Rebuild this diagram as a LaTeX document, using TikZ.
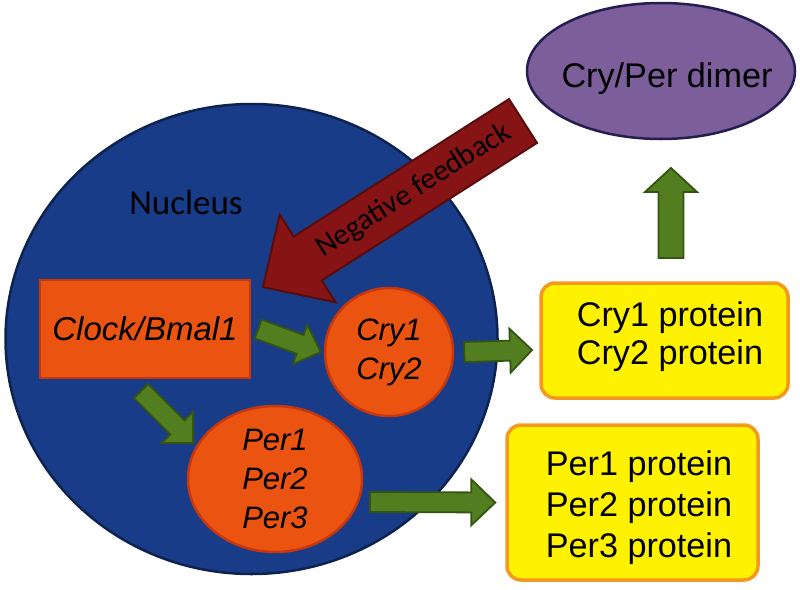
\documentclass[tikz,border=0pt]{standalone}
\usepackage{fontspec}
\setmainfont{Liberation Sans}
\newfontfamily\calibfont{Carlito}
\usetikzlibrary{shapes.geometric,calc}

\definecolor{nucblue}{RGB}{24,60,136}
\definecolor{nucline}{RGB}{14,34,80}
\definecolor{geneorange}{RGB}{234,83,16}
\definecolor{geneline}{RGB}{200,55,12}
\definecolor{arrgreen}{RGB}{82,126,32}
\definecolor{arrline}{RGB}{52,84,18}
\definecolor{fbred}{RGB}{134,20,20}
\definecolor{fbline}{RGB}{88,12,12}
\definecolor{dimerpurple}{RGB}{124,94,154}
\definecolor{dimerline}{RGB}{36,30,80}
\definecolor{protline}{RGB}{247,152,30}

% block arrow: [style]{from}{to}{shaft half width}{head half width}{head length}
\newcommand{\fatarrow}[6][]{%
  \coordinate (fa-c) at ($(#3)!#6!(#2)$);
  \draw[#1] ($(#2)!#4!90:(#3)$) -- ($(fa-c)!#4!-90:(#2)$) -- ($(fa-c)!#5!-90:(#2)$)
    -- (#3) -- ($(fa-c)!#5!90:(#2)$) -- ($(fa-c)!#4!90:(#2)$) -- ($(#2)!#4!-90:(#3)$) -- cycle;
}

\begin{document}
\begin{tikzpicture}[x=1pt, y=-1pt,
  gene/.style={fill=geneorange, draw=geneline, line width=2.5, font=\itshape\fontsize{31}{39}\selectfont, align=center, inner sep=0pt},
  prot/.style={rectangle, rounded corners=14, fill=yellow, draw=protline, line width=3.5},
  prottext/.style={font=\fontsize{34.2}{38}\selectfont, align=center, inner sep=0pt},
  greenarr/.style={fill=arrgreen, draw=arrline, line width=1.8, line join=miter}]

\useasboundingbox (0,0) rectangle (800,589);

% Nucleus
\node (nucleus) at (251.5,339) [ellipse, minimum width=492, minimum height=470, fill=nucblue, draw=nucline, line width=2.5] {};
\node (nuclabel) at (186,202) [font=\calibfont\fontsize{35}{40}\selectfont] {Nucleus};

% Genes
\node (clock) at (145,329) [gene, rectangle, minimum width=210, minimum height=98, font=\itshape\fontsize{33}{39}\selectfont] {Clock/Bmal1};
\node (cry) at (389,352) [gene, circle, minimum size=128] {Cry1\\Cry2};
\node (per) at (275,479) [gene, ellipse, minimum width=174, minimum height=146] {Per1\\Per2\\Per3};

% Proteins
\node (cryprot) at (664.5,340.5) [prot, minimum width=247, minimum height=115] {};
\node (crytext) at (670,337) [prottext] {Cry1 protein\\Cry2 protein};
\node (perprot) at (632.5,502.5) [prot, minimum width=251, minimum height=155] {};
\node (pertext) at (639,508) [prottext, font=\fontsize{34.2}{41}\selectfont] {Per1 protein\\Per2 protein\\Per3 protein};
\node (dimer) at (661,71) [ellipse, minimum width=268, minimum height=136, fill=dimerpurple, draw=dimerline, line width=2.5] {};
\node (dimertext) at (667,79) [prottext] {Cry/Per dimer};

% Arrow ends
\coordinate (a1s) at ([xshift=7]clock.east);
\coordinate (a1t) at ([xshift=-3]cry.west);
\coordinate (a2s) at ([xshift=10]cry.east);
\coordinate (a2t) at (532,350);
\coordinate (a3s) at (141,391);
\coordinate (a3t) at (193,443);
\coordinate (a4s) at (370,502);
\coordinate (a4t) at ([xshift=-10]perprot.west);
\coordinate (a5s) at (671,258);
\coordinate (a5t) at (671,168);
\coordinate (fbs) at (523,121);
\coordinate (fbt) at (263,287);

% Green arrows
\fatarrow[greenarr]{a1s}{a1t}{10pt}{21pt}{22pt}
\fatarrow[greenarr]{a2s}{a2t}{10pt}{22pt}{22pt}
\fatarrow[greenarr]{a3s}{a3t}{10pt}{22pt}{22pt}
\fatarrow[greenarr]{a4s}{a4t}{10pt}{23pt}{24pt}
\fatarrow[greenarr]{a5s}{a5t}{12.5pt}{26pt}{24pt}

% Negative feedback
\fatarrow[fill=fbred, draw=fbline, line width=2, line join=miter]{fbs}{fbt}{26pt}{52pt}{53pt}
\path (fbs) -- node[pos=0.42, sloped, font=\calibfont\fontsize{30}{36}\selectfont] (fblabel) {Negative feedback} (fbt);

\end{tikzpicture}
\end{document}
